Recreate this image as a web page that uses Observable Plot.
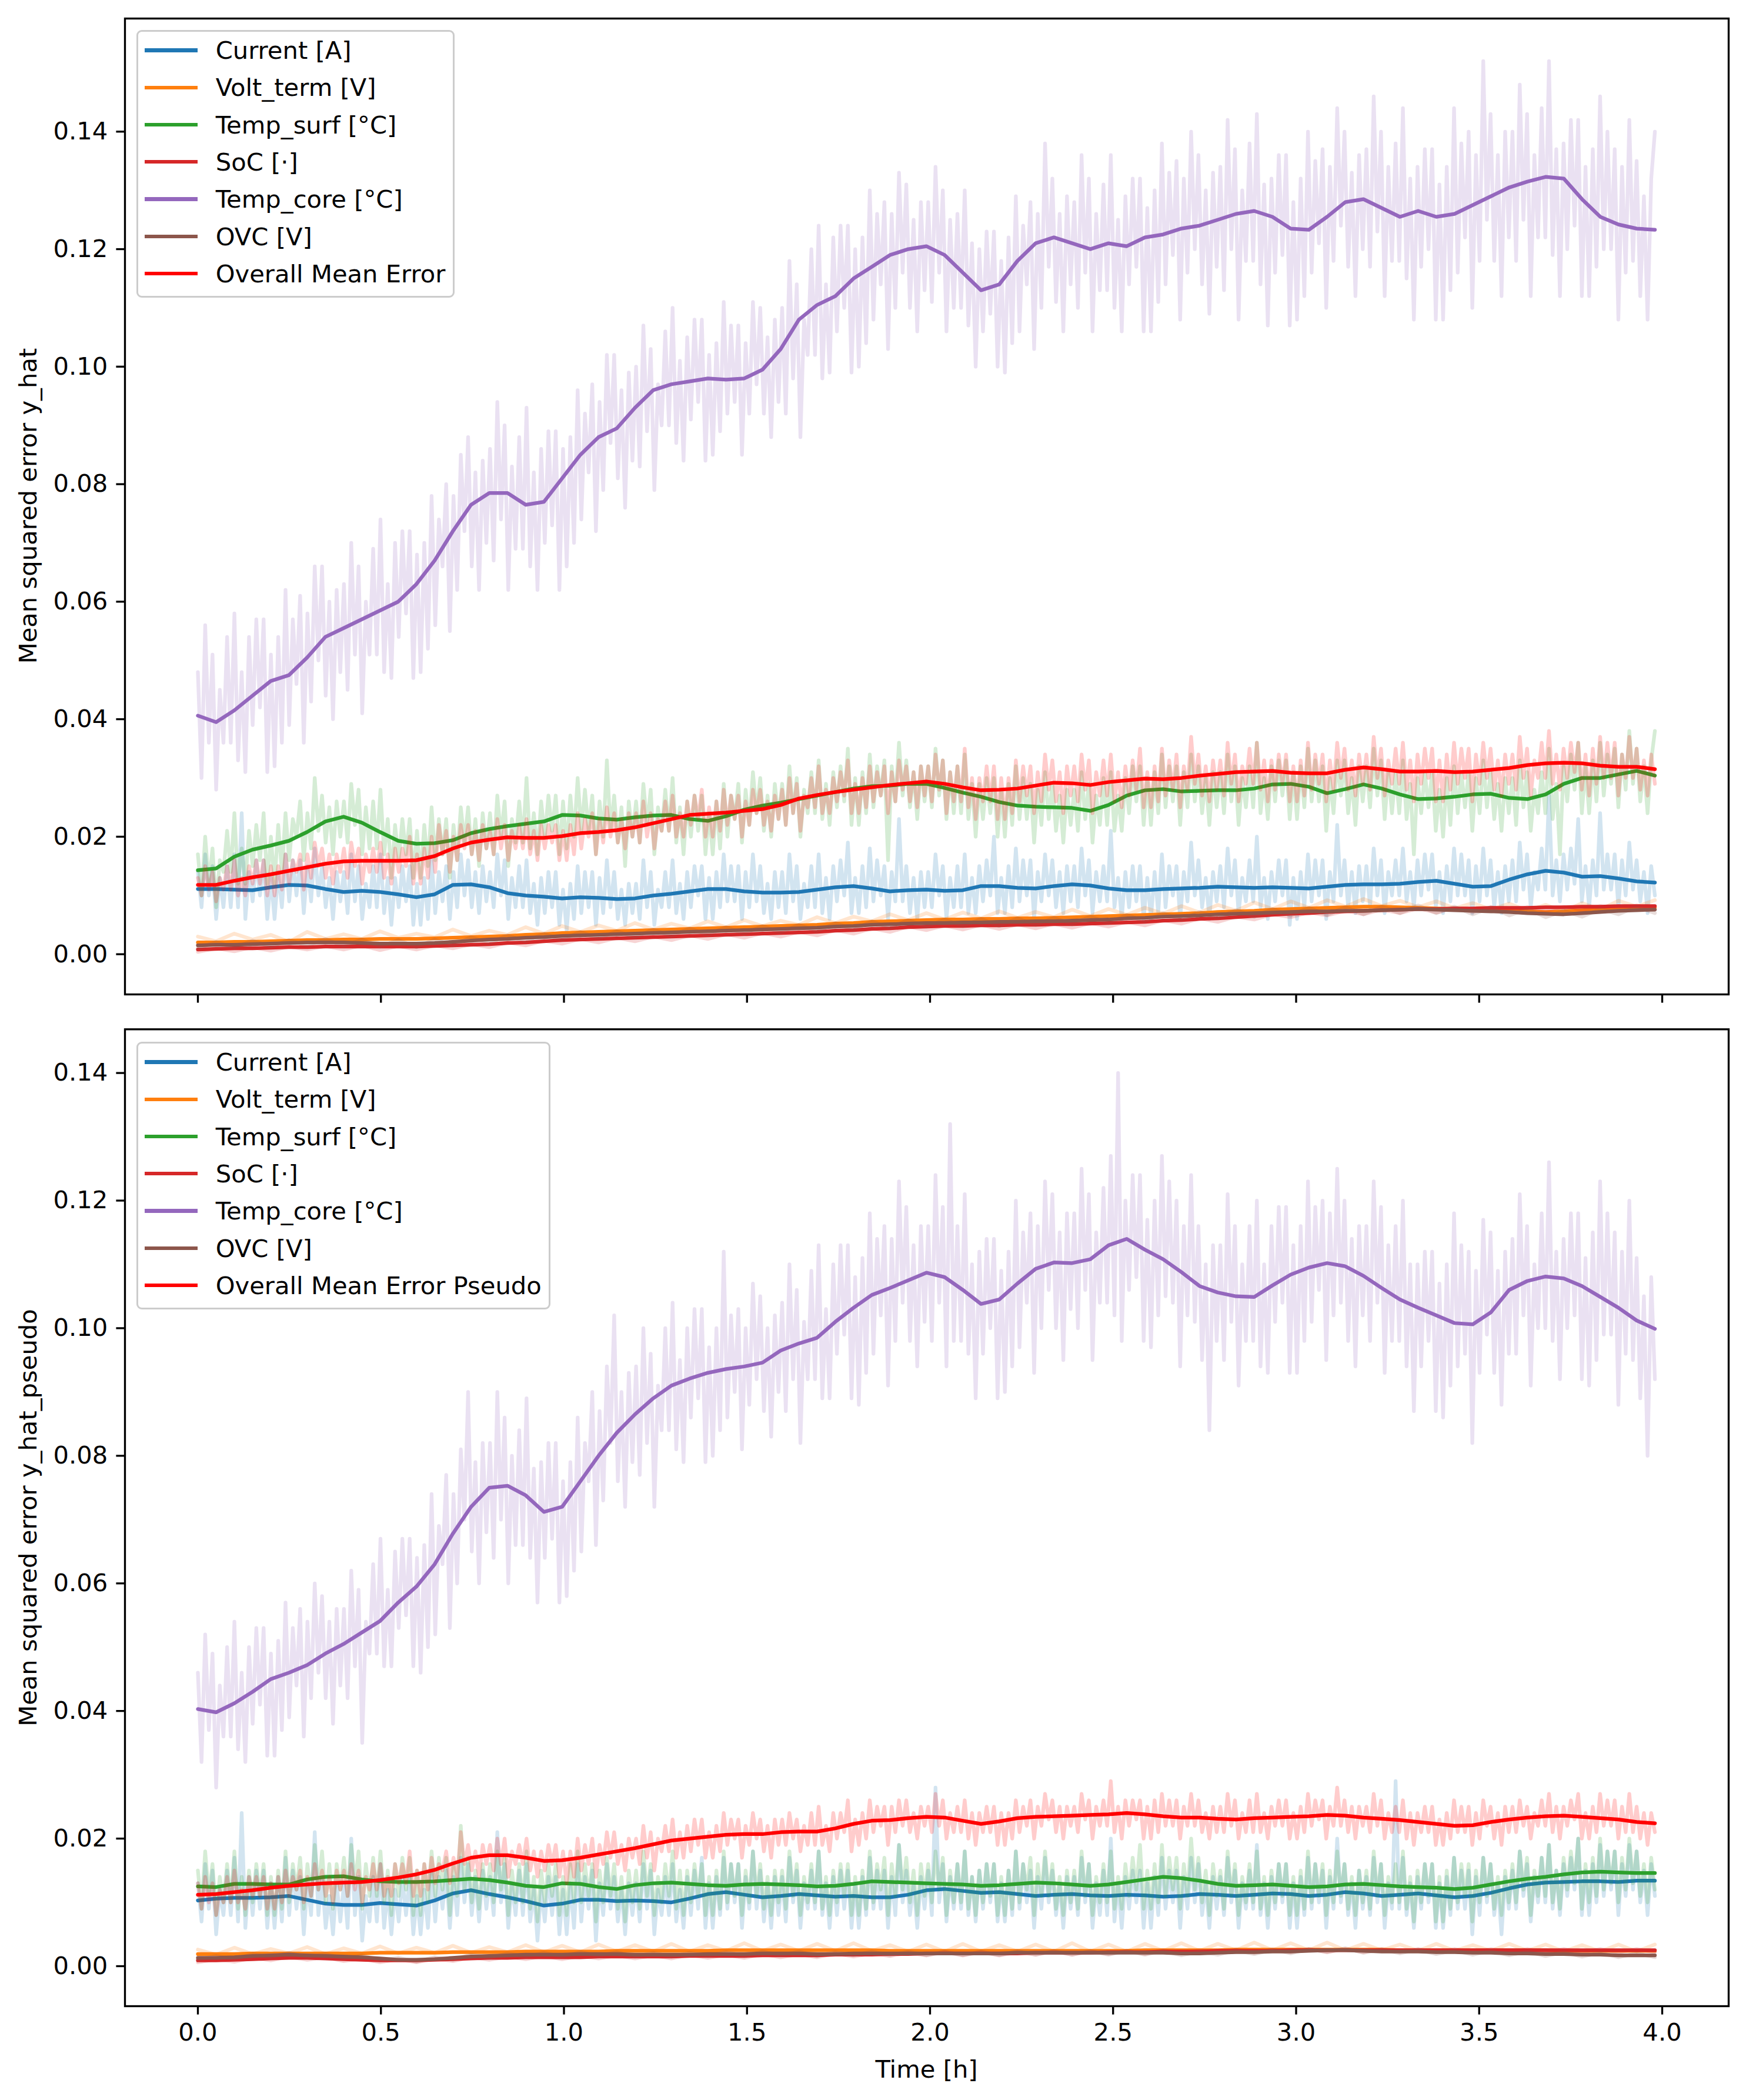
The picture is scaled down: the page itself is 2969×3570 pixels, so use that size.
<!DOCTYPE html>
<html>
<head>
<meta charset="utf-8">
<script src="https://cdn.jsdelivr.net/npm/d3@7"></script>
<script src="https://cdn.jsdelivr.net/npm/@observablehq/plot@0.6"></script>
<style>
  html, body { margin: 0; padding: 0; background: #ffffff; }
  #page { position: relative; width: 2969px; height: 3570px; background: #ffffff; font-family: "DejaVu Sans", sans-serif; color: #000; }
  .chart { position: absolute; left: 0; width: 2969px; }
  .chart svg { display: block; max-width: none !important; }
  .lbl { position: absolute; font-size: 41.7px; white-space: nowrap; line-height: 50px; }
</style>
</head>
<body>
<div id="page"></div>
<script>
// ---------------- DATA (values in units of 1e-3, i.e. MSE × 1000) ----------------
const T_END = 3.98;  // last time stamp [h]; samples are evenly spaced over [0, T_END]
const xTicks = [0, 0.5, 1, 1.5, 2, 2.5, 3, 3.5, 4];
const yTicks = [0, 0.02, 0.04, 0.06, 0.08, 0.10, 0.12, 0.14];
const SERIES = ["Current [A]", "Volt_term [V]", "Temp_surf [°C]", "SoC [·]", "Temp_core [°C]", "OVC [V]"];
const COLORS = ["#1f77b4", "#ff7f0e", "#2ca02c", "#d62728", "#9467bd", "#8c564b"];
const OVERALL_COLOR = "#ff0000";
const topOverallLabel = "Overall Mean Error";
const botOverallLabel = "Overall Mean Error Pseudo";
const topYLabel = "Mean squared error y_hat";
const botYLabel = "Mean squared error y_hat_pseudo";
const xLabel = "Time [h]";

// ===== TOP PANEL (y_hat) — smoothed (81 samples) =====
const topSmoothCurrent = [11.1,11.1,11.0,10.9,11.4,11.8,11.7,11.1,10.6,10.8,10.6,10.2,9.7,10.2,11.8,11.9,11.4,10.4,10.0,9.8,
 9.5,9.7,9.6,9.4,9.5,10.0,10.3,10.7,11.1,11.1,10.7,10.5,10.5,10.6,11.0,11.4,11.6,11.2,10.7,10.9,
 11.0,10.8,10.9,11.6,11.6,11.3,11.2,11.6,11.9,11.7,11.2,10.9,10.9,11.1,11.2,11.3,11.5,11.4,11.3,11.4,
 11.3,11.2,11.5,11.8,11.9,11.9,12.0,12.3,12.5,12.0,11.5,11.6,12.7,13.6,14.2,13.9,13.2,13.3,12.9,12.4,12.2];
const topSmoothVolt = [2.0,2.0,2.1,2.1,2.2,2.3,2.4,2.4,2.5,2.5,2.6,2.6,2.6,2.7,2.8,2.9,3.0,3.1,3.3,3.4,
 3.6,3.7,3.8,3.9,4.0,4.1,4.2,4.3,4.4,4.5,4.6,4.7,4.8,4.9,5.0,5.2,5.3,5.5,5.6,5.7,
 5.8,5.9,5.9,6.0,6.0,6.1,6.1,6.2,6.3,6.4,6.5,6.6,6.7,6.8,6.9,7.0,7.2,7.3,7.4,7.6,
 7.7,7.8,7.9,8.0,8.1,8.1,8.0,7.9,7.8,7.7,7.6,7.5,7.4,7.3,7.2,7.3,7.5,7.7,7.9,8.0,8.0];
const topSmoothSurf = [14.3,14.6,16.6,17.8,18.5,19.3,20.8,22.6,23.4,22.4,20.8,19.3,18.8,18.9,19.4,20.6,21.3,21.8,22.2,22.6,
 23.7,23.6,23.1,22.9,23.3,23.6,23.7,23.0,22.7,23.5,24.6,25.3,25.8,26.4,27.0,27.6,28.2,28.6,28.7,29.0,
 29.0,28.3,27.5,26.8,25.9,25.3,25.1,25.0,24.9,24.4,25.4,27.0,27.9,28.1,27.7,27.8,27.9,27.9,28.2,28.9,
 29.0,28.5,27.4,28.1,28.9,28.2,27.2,26.4,26.5,26.8,27.2,27.3,26.6,26.4,27.2,29.0,30.0,30.0,30.6,31.2,30.4];
const topSmoothSoC = [0.8,0.9,1.0,1.0,1.1,1.2,1.2,1.3,1.3,1.3,1.3,1.3,1.3,1.4,1.5,1.6,1.7,1.9,2.0,2.2,
 2.4,2.5,2.6,2.7,2.8,2.9,3.0,3.1,3.2,3.3,3.4,3.5,3.6,3.7,3.8,4.0,4.1,4.3,4.4,4.6,
 4.7,4.8,4.8,4.9,4.9,5.0,5.0,5.1,5.1,5.2,5.3,5.4,5.5,5.7,5.8,6.0,6.1,6.3,6.5,6.7,
 6.9,7.0,7.2,7.3,7.4,7.5,7.6,7.7,7.7,7.8,7.8,7.9,7.9,7.9,8.0,8.0,8.1,8.1,8.2,8.2,8.2];
const topSmoothCore = [40.6,39.5,41.5,44,46.5,47.5,50.5,54,55.5,57,58.5,60,63,67,72,76.5,78.5,78.5,76.5,77,
 81,85,88,89.5,93,96,97,97.5,98,97.8,98,99.5,103,108,110.5,112,115,117,119,120,
 120.5,119,116,113,114,118,121,122,121,120,121,120.5,122,122.5,123.5,124,125,126,126.5,125.5,
 123.5,123.3,125.5,128,128.5,127,125.5,126.5,125.5,126,127.5,129,130.5,131.5,132.3,132,128.5,125.5,124.2,123.5,123.3];
const topSmoothOVC = [1.5,1.6,1.6,1.7,1.8,1.9,2.0,2.0,2.0,1.9,1.8,1.8,1.8,1.9,2.1,2.3,2.5,2.6,2.8,2.9,
 3.1,3.2,3.3,3.4,3.5,3.6,3.7,3.8,3.9,4.0,4.1,4.2,4.3,4.4,4.5,4.7,4.8,5.0,5.1,5.2,
 5.3,5.3,5.4,5.4,5.5,5.5,5.6,5.6,5.7,5.8,5.9,6.1,6.2,6.4,6.5,6.6,6.8,6.9,7.0,7.1,
 7.2,7.3,7.3,7.4,7.4,7.5,7.6,7.7,7.6,7.5,7.4,7.3,7.2,7.0,6.9,6.8,7.0,7.2,7.4,7.5,7.6];
const topSmoothOverall = [11.8,11.8,12.5,13.1,13.6,14.2,14.8,15.4,15.8,15.9,15.9,15.9,16.0,16.7,18.0,19.0,19.5,19.9,19.8,19.8,
 20.1,20.6,20.8,21.1,21.6,22.3,23.0,23.7,23.9,24.1,24.4,24.7,25.4,26.5,27.1,27.6,28.0,28.4,28.8,29.1,
 29.4,29.0,28.4,27.9,28.0,28.2,28.7,29.2,29.1,28.8,29.3,29.6,29.9,29.8,30.0,30.4,30.7,31.0,31.1,31.2,
 30.9,30.8,30.8,31.4,31.8,31.5,31.1,31.1,31.2,31.0,31.1,31.4,31.7,32.2,32.5,32.6,32.5,32.1,31.9,31.9,31.5];

// ===== TOP PANEL — raw (400 samples for large series, 81 for small) =====
const topRawCurrent = [
 14,8,17,10,15,6,13,8,15,8,17,8,24,6,14,9,16,10,16,6,
 13,6,14,8,17,9,16,10,16,7,15,9,18,10,15,8,13,6,14,9,
 14,7,17,9,15,6,12,8,15,8,17,7,13,5,13,8,15,9,15,5,
 12,5,13,6,16,7,14,9,15,6,14,8,17,10,16,8,14,7,15,9,
 14,8,17,10,16,6,13,8,15,8,16,7,12,5,13,7,14,8,14,5,
 11,4,12,6,15,7,14,8,14,5,13,7,16,8,14,6,11,5,12,7,
 12,6,16,8,14,5,11,8,14,8,16,7,12,6,14,8,15,10,15,6,
 13,6,14,8,17,9,15,9,15,6,14,8,17,9,15,7,12,6,14,8,
 14,7,17,9,15,6,12,8,15,8,17,7,13,6,15,9,16,10,19,7,
 13,7,15,8,18,9,16,10,15,6,14,9,23,9,15,7,13,6,14,8,
 14,8,17,10,15,6,13,8,15,8,17,7,13,7,15,9,16,10,20,7,
 13,7,15,8,18,9,16,10,16,6,14,9,17,10,16,8,14,7,15,9,
 15,8,18,10,16,7,14,9,15,9,21,8,13,6,14,8,15,9,15,6,
 13,6,14,7,17,8,15,10,15,6,14,9,19,10,16,8,13,6,14,9,
 15,8,18,10,16,7,13,9,16,9,20,8,13,6,14,9,16,10,16,5,
 13,6,14,8,17,9,16,10,16,6,14,9,22,10,16,8,14,7,15,9,
 15,8,18,10,16,7,14,10,16,10,18,9,14,8,16,10,17,11,17,8,
 14,7,15,9,18,10,17,10,16,7,15,9,18,10,16,8,14,7,15,9,
 16,9,19,11,17,8,14,11,18,11,27,10,16,9,17,11,18,12,23,9,
 15,8,16,10,24,11,17,11,17,8,16,10,19,11,16,9,14,7,15,10];
const topRawVolt = [3.0,2.2,3.5,2.5,3.3,2.1,3.8,2.6,3.4,2.6,3.9,2.8,3.5,2.9,4.2,3.1,4.0,3.3,4.6,3.5,
 4.8,3.8,4.9,4.0,5.3,4.2,5.2,4.4,5.6,4.6,5.8,4.8,5.7,5.0,6.3,5.3,6.4,5.6,6.8,5.8,
 7.0,5.9,7.1,6.1,7.3,6.2,7.2,6.3,7.6,6.5,7.7,6.7,7.9,6.9,8.2,7.1,8.4,7.4,8.8,7.7,
 9.0,7.9,9.2,8.1,9.4,8.2,9.1,8.0,9.0,7.8,8.7,7.6,8.6,7.4,8.4,7.3,8.7,7.6,9.1,8.1,9.2];
const topRawSurf = [
 17,10,20,12,18,8,16,14,21,14,24,12,18,12,21,15,22,16,24,12,
 20,12,22,14,24,16,23,20,26,16,24,18,30,21,27,19,25,17,26,20,
 26,19,29,22,28,17,25,18,26,18,28,17,23,13,22,16,23,17,23,13,
 21,13,22,15,25,16,23,17,23,13,22,16,25,19,25,17,23,15,24,18,
 24,17,27,20,26,15,23,19,26,19,30,18,24,17,26,20,27,21,27,17,
 26,18,27,20,30,21,28,21,27,17,26,20,33,21,27,19,25,15,26,20,
 26,19,29,22,28,17,25,21,28,21,30,19,25,17,26,20,27,21,27,17,
 24,17,26,18,29,20,27,23,29,19,28,22,31,24,30,21,27,20,29,23,
 29,22,32,24,30,20,28,24,31,24,33,23,29,22,31,25,32,26,35,22,
 30,22,31,24,34,25,32,27,33,16,32,26,36,27,33,25,31,23,32,26,
 32,25,35,27,33,23,31,24,32,24,34,23,29,20,29,23,30,24,30,20,
 28,20,29,22,32,23,30,23,29,19,28,22,31,23,29,21,27,19,28,22,
 28,21,31,23,29,19,27,22,30,22,31,21,27,21,30,24,32,26,32,22,
 30,22,31,24,34,25,32,26,32,22,31,25,34,26,32,24,30,22,31,25,
 31,24,34,26,32,22,30,25,32,25,36,24,30,23,32,26,33,27,33,23,
 31,23,32,25,35,26,33,26,32,21,30,24,33,27,33,24,30,22,32,26,
 32,25,35,27,33,23,31,24,31,24,33,23,29,17,30,24,31,25,31,21,
 28,20,30,22,32,24,31,25,31,21,30,24,33,25,31,23,29,21,30,24,
 30,22,33,25,31,21,28,24,31,24,35,23,29,17,32,26,34,28,36,24,
 32,24,33,26,36,27,34,29,35,25,34,28,38,29,35,26,32,24,33,38];
const topRawSoC = [0.4,1.0,0.5,1.2,0.6,1.3,0.8,1.4,0.8,1.5,0.7,1.4,0.8,1.5,1.0,1.7,1.2,2.0,1.5,2.3,
 1.8,2.6,2.0,2.8,2.2,3.0,2.4,3.2,2.6,3.4,2.8,3.6,3.0,3.8,3.2,4.1,3.5,4.4,3.8,4.7,
 4.1,4.9,4.2,5.0,4.3,5.1,4.4,5.2,4.5,5.3,4.7,5.5,4.9,5.8,5.2,6.1,5.5,6.4,5.9,6.8,
 6.3,7.1,6.6,7.4,6.8,7.6,7.0,7.8,7.1,7.9,7.2,8.0,7.3,8.0,7.4,8.1,7.5,8.2,7.6,8.3,7.6];
const topRawCore = [
 48,30,56,36,51,28,45,36,54,36,58,33,48,31,54,39,57,42,57,31,
 51,32,54,36,62,39,57,46,61,36,58,43,66,50,66,44,60,40,62,48,
 63,45,70,51,66,41,60,51,69,51,74,48,63,47,70,54,72,58,72,47,
 68,48,70,52,78,56,74,66,80,55,78,62,85,72,88,66,82,62,84,70,
 86,67,94,74,90,62,83,69,88,69,93,66,82,62,86,70,89,73,89,62,
 86,66,88,70,96,74,92,82,97,72,94,79,102,87,102,81,96,76,99,84,
 100,83,107,89,103,79,97,90,106,90,110,87,101,84,105,91,108,94,108,84,
 102,85,104,89,111,92,107,94,107,85,104,92,111,97,110,92,105,88,108,94,
 110,92,118,98,114,88,108,102,120,102,124,98,114,99,122,106,124,110,124,99,
 120,100,122,104,130,108,126,114,128,103,126,110,133,116,131,110,125,106,128,113,
 128,111,134,116,130,106,125,110,126,110,130,107,121,100,120,106,123,109,123,100,
 118,99,122,104,129,106,124,114,128,103,126,110,138,117,132,111,126,106,129,114,
 128,110,136,116,132,106,126,113,131,113,136,110,125,106,129,114,132,117,132,106,
 127,106,130,111,138,114,133,119,135,108,132,116,140,120,136,114,130,109,133,117,
 134,113,142,120,137,108,130,118,138,118,143,114,131,107,132,116,136,119,136,107,
 128,108,132,112,140,116,135,121,137,110,134,118,144,124,140,117,133,112,136,120,
 137,117,146,123,140,112,134,118,138,118,144,115,132,108,134,117,137,120,137,108,
 131,108,134,113,144,116,138,122,140,110,136,118,152,125,143,118,136,112,140,122,
 140,118,148,125,143,112,136,122,144,122,152,119,137,112,138,120,142,124,142,112,
 134,112,137,117,146,120,140,120,137,108,134,116,142,118,135,112,129,108,132,140];
const topRawOVC = [1.0,2.1,1.1,2.3,1.3,2.4,1.5,2.6,1.4,2.5,1.3,2.4,1.2,2.5,1.5,2.9,1.9,3.2,2.2,3.5,
 2.5,3.8,2.7,3.9,2.9,4.2,3.1,4.4,3.3,4.6,3.5,4.8,3.7,5.0,3.9,5.3,4.2,5.6,4.5,5.8,
 4.7,5.9,4.8,6.0,4.8,6.1,5.0,6.2,5.1,6.4,5.3,6.7,5.6,7.0,5.9,7.2,6.2,7.5,6.4,7.7,
 6.6,7.9,6.7,8.0,6.8,8.1,7.0,8.3,7.0,8.1,6.8,8.0,6.6,7.7,6.3,7.4,6.4,7.7,6.8,8.1,7.0];
const topRawOverall = [
 13,10,15,11,14,9,13,11,15,11,16,10,13,10,15,12,16,12,16,10,
 15,10,15,11,17,12,16,14,17,11,17,13,19,15,18,13,17,12,17,14,
 18,13,19,15,18,12,17,14,18,14,19,13,17,12,18,14,18,15,20,12,
 17,12,18,13,20,14,22,17,21,14,20,16,22,18,22,17,21,16,22,18,
 21,17,23,18,22,16,21,18,22,18,23,17,21,16,22,18,22,19,22,16,
 21,16,22,17,24,18,23,20,24,17,23,19,25,20,24,19,23,18,24,20,
 24,19,26,20,24,18,23,21,26,21,27,20,24,20,26,22,27,23,28,20,
 25,20,26,21,28,22,27,23,27,20,26,22,28,24,28,22,26,21,27,23,
 28,22,30,24,29,21,27,25,30,25,32,24,28,24,30,26,31,27,33,24,
 29,24,30,25,32,26,31,27,32,24,31,26,33,28,32,26,31,25,32,27,
 32,26,34,28,33,24,31,26,32,26,35,25,30,23,30,26,32,26,32,23,
 30,23,30,24,33,26,32,27,32,24,31,26,34,28,33,26,31,24,32,27,
 32,26,34,28,33,24,31,27,33,27,34,26,31,25,32,27,33,28,35,25,
 31,25,32,26,35,27,33,28,34,25,32,28,37,29,34,27,32,26,33,28,
 33,27,36,29,34,26,32,29,35,29,36,28,33,26,33,28,34,29,34,26,
 32,26,33,27,36,28,34,29,34,26,33,28,36,30,35,28,33,27,34,29,
 34,28,37,30,35,27,33,29,35,29,36,28,33,26,34,29,35,30,35,26,
 33,26,34,28,36,29,35,30,35,26,34,29,36,30,35,28,33,27,34,29,
 34,28,37,30,35,27,33,30,36,30,38,29,34,28,35,30,36,31,36,28,
 34,27,35,29,37,30,36,30,36,27,34,30,37,30,35,28,33,27,34,29];

// ===== BOTTOM PANEL (y_hat_pseudo) — smoothed (81 samples) =====
const botSmoothCurrent = [10.3,10.6,10.7,10.7,10.8,11.0,10.4,9.8,9.6,9.6,9.9,9.7,9.5,10.3,11.4,11.9,11.3,10.8,10.2,9.5,
 9.8,10.4,10.4,10.2,10.3,10.2,10.0,10.6,11.3,11.6,11.2,10.8,11.0,11.3,11.1,10.9,11.0,10.8,10.8,11.2,
 11.9,12.1,11.8,11.5,11.6,11.3,11.0,11.2,11.3,11.1,11.0,11.2,11.1,10.9,11.0,11.3,11.2,11.0,11.2,11.4,
 11.3,11.0,11.2,11.6,11.4,11.0,11.2,11.4,11.1,10.8,11.0,11.5,12.2,12.8,13.1,13.2,13.3,13.3,13.2,13.4,13.4];
const botSmoothVolt = [1.9,1.9,1.9,2.0,2.0,2.0,2.0,2.0,2.0,2.0,2.1,2.1,2.1,2.1,2.2,2.2,2.2,2.2,2.3,2.3,
 2.3,2.3,2.3,2.4,2.4,2.4,2.4,2.4,2.4,2.5,2.5,2.5,2.5,2.5,2.5,2.5,2.5,2.5,2.4,2.4,
 2.4,2.4,2.4,2.4,2.4,2.4,2.4,2.4,2.4,2.4,2.4,2.4,2.5,2.5,2.5,2.5,2.5,2.6,2.6,2.6,
 2.6,2.6,2.6,2.6,2.6,2.6,2.5,2.5,2.5,2.5,2.5,2.5,2.5,2.5,2.5,2.4,2.4,2.4,2.4,2.4,2.4];
const botSmoothSurf = [12.5,12.4,12.9,12.9,12.8,12.8,13.6,14.0,14.1,13.6,13.3,13.2,13.2,13.3,13.5,13.7,13.5,13.1,12.6,12.4,
 13.0,12.9,12.4,12.1,12.7,13.0,13.1,12.9,12.7,12.6,12.8,12.9,12.8,12.7,12.5,12.6,12.9,13.3,13.2,13.1,
 13.0,12.9,12.8,12.6,12.7,12.9,13.1,13.0,12.8,12.6,12.8,13.2,13.6,14.0,13.8,13.4,12.9,12.6,12.7,12.8,
 12.6,12.4,12.5,12.8,12.9,12.7,12.5,12.4,12.3,12.1,12.3,12.8,13.3,13.7,14.0,14.4,14.7,14.8,14.7,14.6,14.6];
const botSmoothSoC = [0.9,0.9,1.0,1.1,1.2,1.3,1.3,1.2,1.1,1.0,0.9,0.9,0.9,1.0,1.1,1.2,1.3,1.3,1.4,1.4,
 1.4,1.4,1.5,1.5,1.5,1.5,1.5,1.6,1.6,1.6,1.6,1.7,1.7,1.7,1.7,1.8,1.8,1.8,1.9,1.9,
 2.0,2.0,2.0,2.0,2.0,2.0,2.1,2.1,2.1,2.1,2.2,2.2,2.2,2.3,2.3,2.3,2.4,2.4,2.4,2.4,
 2.5,2.5,2.5,2.5,2.5,2.5,2.5,2.5,2.5,2.5,2.5,2.5,2.5,2.5,2.5,2.5,2.5,2.5,2.5,2.5,2.5];
const botSmoothCore = [40.3,39.8,41.2,43.0,45.0,46.0,47.2,49.0,50.5,52.3,54.1,57.0,59.5,63.0,67.8,72.0,75.0,75.3,73.8,71.2,
 72.0,76.0,80.0,83.6,86.5,89.0,91.0,92.1,93.0,93.6,94.0,94.6,96.5,97.6,98.5,101.0,103.2,105.2,106.3,107.5,
 108.7,108.0,106.0,103.8,104.5,107.0,109.3,110.3,110.2,110.8,113.0,114.0,112.3,110.8,108.8,106.6,105.6,105.0,104.9,106.7,
 108.4,109.5,110.2,109.7,108.2,106.3,104.5,103.2,102.0,100.8,100.6,102.5,106.0,107.4,108.1,107.8,106.6,104.9,103.2,101.2,99.9];
const botSmoothOVC = [1.3,1.3,1.4,1.6,1.7,1.8,1.7,1.6,1.5,1.4,1.2,1.0,1.0,1.1,1.3,1.5,1.6,1.7,1.8,1.8,
 1.8,1.9,1.9,1.9,1.8,1.8,1.8,1.8,1.9,1.9,1.9,2.0,2.0,2.0,1.9,1.9,2.0,2.0,2.0,2.0,
 2.0,2.0,2.0,2.0,2.0,2.1,2.1,2.1,2.1,2.1,2.1,2.1,2.1,2.1,2.0,2.0,2.1,2.2,2.2,2.3,
 2.3,2.4,2.5,2.5,2.4,2.3,2.3,2.3,2.2,2.2,2.1,2.1,2.0,2.0,1.9,1.9,1.8,1.8,1.7,1.7,1.7];
const botSmoothOverall = [11.2,11.3,11.6,11.9,12.3,12.6,12.8,13.0,13.1,13.2,13.5,13.9,14.4,15.1,16.1,17.0,17.4,17.4,17.0,16.5,
 16.6,17.0,17.5,18.0,18.5,19.1,19.7,20.0,20.3,20.6,20.7,20.7,21.0,21.1,21.1,21.6,22.3,22.8,22.9,23.2,
 23.4,23.3,22.8,22.3,22.7,23.2,23.4,23.5,23.6,23.7,23.8,24.0,23.8,23.5,23.3,23.3,23.1,23.0,23.2,23.3,
 23.4,23.5,23.7,23.6,23.3,23.1,22.9,22.6,22.3,22.0,22.1,22.6,23.0,23.3,23.5,23.6,23.4,23.2,23.0,22.6,22.4];

// ===== BOTTOM PANEL — raw =====
const botRawCurrent = [
 13,7,16,9,15,5,12,8,15,8,17,7,24,6,14,8,15,9,15,6,
 13,6,14,7,17,8,15,9,14,5,13,8,21,8,14,6,11,5,13,7,
 13,6,20,8,14,4,11,7,14,7,16,6,12,5,12,7,14,8,14,5,
 11,5,12,6,15,7,14,9,15,6,14,8,17,10,16,8,14,7,15,9,
 14,8,21,10,16,6,13,8,15,8,16,7,12,4,12,7,14,8,14,5,
 12,5,13,6,16,7,14,9,15,4,13,8,16,9,14,7,12,5,13,8,
 13,7,16,9,15,5,12,8,14,8,16,7,12,6,14,8,15,9,17,6,
 13,6,14,8,17,9,16,10,16,6,14,9,18,9,15,7,13,6,14,8,
 14,7,17,10,15,6,13,9,15,9,18,8,13,6,14,8,15,9,15,6,
 13,6,14,8,17,9,15,9,15,6,14,8,19,10,15,8,13,6,14,9,
 15,8,28,10,16,7,14,9,16,9,18,8,14,7,15,9,16,10,16,7,
 13,7,15,8,18,9,16,10,15,6,14,9,17,10,15,8,13,6,14,9,
 14,8,17,10,16,6,13,8,15,8,20,7,13,6,14,9,15,10,15,6,
 13,6,14,8,17,9,15,10,15,6,14,9,17,10,16,8,13,6,14,9,
 14,8,17,10,15,6,13,9,15,9,19,8,13,6,14,9,16,10,16,6,
 13,6,14,8,17,9,16,10,15,6,14,9,20,10,16,8,13,6,15,9,
 14,8,17,10,16,6,13,9,29,9,17,8,13,6,14,9,16,10,16,6,
 13,6,14,8,17,9,15,9,15,5,14,8,17,10,16,8,13,5,14,9,
 15,9,18,11,16,7,14,10,17,10,19,9,15,8,16,11,17,12,20,8,
 15,8,16,10,19,11,18,12,18,8,16,11,19,12,18,10,15,8,16,11];
const botRawVolt = [2.6,1.8,2.9,1.9,2.7,2.0,3.0,1.9,2.8,2.0,3.1,2.0,2.9,2.1,3.2,2.1,3.0,2.2,3.3,2.2,
 3.2,2.2,3.4,2.3,3.3,2.3,3.5,2.3,3.3,2.4,3.6,2.4,3.4,2.4,3.5,2.4,3.6,2.4,3.3,2.3,
 3.4,2.3,3.5,2.3,3.3,2.3,3.4,2.3,3.6,2.3,3.4,2.3,3.5,2.4,3.6,2.4,3.5,2.5,3.7,2.5,
 3.6,2.5,3.7,2.5,3.5,2.5,3.4,2.4,3.5,2.4,3.3,2.4,3.5,2.4,3.4,2.3,3.3,2.3,3.4,2.3,3.4];
const botRawSurf = [
 15,9,18,11,16,8,14,10,16,10,18,9,14,8,15,10,16,11,16,8,
 14,8,15,9,18,10,16,12,17,9,16,11,19,12,18,10,16,9,16,12,
 17,11,19,13,18,9,16,11,17,11,18,10,15,8,16,11,17,12,17,8,
 15,8,16,10,18,11,17,12,17,8,16,11,22,12,17,10,15,9,16,11,
 16,10,18,12,17,8,15,10,16,10,18,9,14,7,15,10,16,11,16,8,
 14,8,16,10,18,10,16,11,16,7,15,10,17,11,16,9,14,7,15,10,
 15,9,18,11,16,8,14,10,16,11,18,9,15,8,15,10,16,11,16,8,
 14,8,15,9,18,10,16,11,16,8,15,10,18,11,16,9,14,8,15,10,
 15,9,18,11,16,8,14,10,16,10,18,9,14,8,15,10,16,11,16,8,
 14,8,15,9,18,10,16,12,17,8,16,11,19,12,17,10,15,8,16,11,
 16,10,18,12,17,8,15,10,16,10,18,9,14,8,15,10,16,11,16,8,
 14,8,15,9,18,10,16,12,17,8,16,11,18,11,16,9,14,8,15,10,
 15,9,18,11,16,8,14,10,16,10,18,9,14,9,16,11,17,12,19,9,
 15,9,16,10,19,11,17,12,17,9,16,11,20,12,17,10,15,8,16,11,
 15,9,18,11,16,8,14,10,16,10,18,9,14,8,15,10,16,11,16,8,
 14,8,15,9,18,10,16,11,16,8,15,10,18,11,16,9,14,8,15,10,
 15,9,18,11,16,8,14,10,16,10,18,9,14,7,15,10,16,11,16,7,
 14,7,15,9,17,10,16,11,16,7,15,10,17,11,16,9,14,8,15,10,
 16,10,18,12,17,8,15,11,17,11,19,10,15,9,17,12,18,13,20,9,
 16,10,17,11,20,12,18,13,18,10,17,12,20,13,18,11,16,10,17,12];
const botRawSoC = [0.6,1.1,0.7,1.3,0.9,1.5,1.0,1.4,0.8,1.2,0.6,1.1,0.6,1.2,0.8,1.4,1.0,1.5,1.1,1.6,
 1.1,1.6,1.2,1.7,1.2,1.7,1.2,1.8,1.3,1.8,1.3,1.9,1.4,1.9,1.4,2.0,1.5,2.0,1.6,2.1,
 1.7,2.2,1.7,2.2,1.7,2.2,1.8,2.3,1.8,2.3,1.9,2.4,1.9,2.5,2.0,2.5,2.1,2.6,2.1,2.6,
 2.2,2.7,2.2,2.7,2.2,2.7,2.2,2.7,2.2,2.7,2.2,2.7,2.2,2.7,2.2,2.7,2.2,2.7,2.2,2.7,2.2];
const botRawCore = [
 46,32,52,37,49,28,44,36,50,36,54,34,46,32,50,38,53,41,53,33,
 49,33,51,37,57,39,53,44,56,36,54,42,60,46,58,42,54,38,56,44,
 56,42,62,47,59,35,54,49,63,49,67,47,59,47,65,53,67,55,67,47,
 64,46,66,50,74,52,69,63,77,53,74,60,81,70,90,65,79,60,82,68,
 82,64,90,70,86,60,80,66,84,66,89,64,78,57,79,64,82,67,82,57,
 76,58,79,62,86,65,82,76,90,66,87,73,94,82,102,76,90,72,93,79,
 94,77,100,82,96,72,91,84,100,84,104,81,95,79,100,86,103,89,103,79,
 97,80,100,84,112,86,102,90,103,81,100,88,107,92,105,87,100,83,102,90,
 104,87,110,92,106,82,101,92,109,92,113,89,103,89,110,96,113,99,113,89,
 108,88,111,93,118,96,114,102,116,91,114,98,123,104,119,98,113,94,116,101,
 116,98,124,104,119,94,132,98,116,98,121,96,110,89,112,96,114,100,114,89,
 109,90,112,94,120,97,115,104,118,93,116,100,123,106,121,100,115,95,118,103,
 118,100,125,106,121,95,115,104,122,104,127,102,140,98,120,106,124,108,124,98,
 117,97,120,102,127,105,123,104,120,94,116,102,124,101,116,95,110,84,113,98,
 113,95,121,101,116,91,110,98,116,98,120,94,110,93,116,101,119,104,119,93,
 113,93,116,98,123,101,119,106,120,95,118,102,125,104,120,98,114,94,116,102,
 116,98,123,104,119,93,113,98,116,98,120,94,110,87,110,94,112,98,112,87,
 107,86,110,91,118,94,113,96,112,82,109,93,117,99,115,93,109,88,112,96,
 114,96,121,102,116,91,110,100,118,100,126,98,112,92,114,100,118,102,118,92,
 111,91,115,95,123,99,118,99,115,88,112,96,120,95,111,89,105,80,108,92];
const botRawOVC = [1.0,1.6,1.1,1.9,1.4,2.1,1.4,1.9,1.2,1.7,0.9,1.3,0.7,1.4,1.0,1.8,1.3,2.0,1.5,2.1,
 1.5,2.2,1.6,2.2,1.5,2.1,1.5,2.1,1.6,2.2,1.6,2.3,1.7,2.3,1.6,2.2,1.7,2.3,1.7,2.3,
 1.7,2.3,1.7,2.3,1.7,2.4,1.8,2.4,1.8,2.4,1.8,2.4,1.8,2.4,1.7,2.3,1.8,2.5,1.9,2.6,
 2.0,2.7,2.2,2.8,2.1,2.6,2.0,2.6,1.9,2.5,1.8,2.4,1.7,2.3,1.6,2.2,1.5,2.1,1.4,2.0,1.4];
const botRawOverall = [
 13,9,14,10,13,8,12,10,14,10,15,10,12,9,14,11,14,11,14,9,
 13,9,14,10,15,11,14,12,15,10,14,11,16,12,15,11,14,10,15,12,
 15,11,16,12,15,10,14,12,16,12,16,11,14,11,16,13,16,13,18,11,
 15,11,16,12,17,13,16,15,18,13,17,14,21,16,19,15,18,14,19,16,
 19,15,20,16,20,14,18,16,19,16,20,15,18,14,18,15,19,16,19,14,
 18,13,18,14,20,15,19,16,20,14,19,16,21,17,21,16,19,15,20,17,
 20,16,22,17,21,15,20,18,22,18,23,17,21,17,22,18,23,19,23,17,
 21,17,22,18,24,19,23,20,23,17,22,19,24,20,23,18,22,17,23,19,
 23,19,24,20,23,18,22,19,24,19,25,19,22,18,24,20,24,21,26,18,
 23,19,24,20,26,21,25,22,25,19,25,21,26,22,26,21,24,20,25,22,
 25,21,27,22,26,20,24,21,25,21,26,20,24,19,24,21,25,21,25,19,
 24,19,24,20,26,21,25,22,26,20,25,22,27,23,26,21,25,20,25,22,
 25,21,27,23,26,20,25,22,26,22,29,21,25,20,26,22,26,23,26,20,
 25,20,26,21,27,22,26,22,26,20,25,22,27,22,26,21,24,20,25,21,
 25,21,27,22,26,20,24,21,26,21,27,21,24,20,25,22,26,22,26,20,
 24,20,25,21,27,22,26,23,26,20,25,22,28,22,26,21,25,20,25,22,
 25,21,27,22,26,20,24,21,25,21,26,20,24,19,24,21,25,21,25,19,
 23,19,24,20,26,21,25,21,25,19,24,20,26,22,25,20,24,19,25,21,
 25,21,26,22,25,20,24,22,26,22,27,21,25,20,25,22,26,23,27,20,
 24,20,25,21,27,22,26,22,26,20,25,21,27,21,25,20,24,19,24,21];

// ---------------- BUILD ----------------
const toRows = vals => vals.map((v, i) => ({t: i * T_END / (vals.length - 1), v: v / 1000}));

const FS = 41.7;          // 10 pt at 300 dpi
const LW = 6.25;          // 1.5 pt
const AXW = 3.33;         // 0.8 pt
const TICK = 14.6;        // 3.5 pt

function panel({raw, smooth, overallRaw, overallSmooth, height, mt, mb, yDomain, xLabels}) {
  const marks = [];
  for (let k = 0; k < SERIES.length; k++) {
    marks.push(Plot.line(toRows(raw[k]), {x: "t", y: "v", stroke: COLORS[k], strokeOpacity: 0.2, strokeWidth: LW, strokeLinejoin: "round"}));
    marks.push(Plot.line(toRows(smooth[k]), {x: "t", y: "v", stroke: COLORS[k], strokeWidth: LW, strokeLinejoin: "round"}));
  }
  marks.push(Plot.line(toRows(overallRaw), {x: "t", y: "v", stroke: OVERALL_COLOR, strokeOpacity: 0.2, strokeWidth: LW, strokeLinejoin: "round"}));
  marks.push(Plot.line(toRows(overallSmooth), {x: "t", y: "v", stroke: OVERALL_COLOR, strokeWidth: LW, strokeLinejoin: "round"}));
  marks.push(Plot.axisY({ticks: yTicks, tickFormat: d3.format(".2f"), tickSize: TICK, tickPadding: TICK, strokeWidth: AXW, fontSize: FS, label: null, stroke: "black", fill: "black"}));
  marks.push(Plot.axisX({ticks: xTicks, tickFormat: xLabels ? d3.format(".1f") : () => "", tickSize: TICK, tickPadding: TICK, strokeWidth: AXW, fontSize: FS, label: null, stroke: "black", fill: "black"}));
  marks.push(Plot.frame({stroke: "black", strokeWidth: AXW}));
  return Plot.plot({
    width: 2969, height,
    marginLeft: 212, marginRight: 30, marginTop: mt, marginBottom: mb,
    x: {domain: [-0.1992, 4.1815]},
    y: {domain: yDomain},
    style: {fontFamily: "DejaVu Sans", fontSize: FS + "px", color: "black", background: "white", overflow: "visible"},
    marks
  });
}

const page = document.getElementById("page");

function place(node, top) {
  const wrap = document.createElement("div");
  wrap.className = "chart";
  wrap.style.top = top + "px";
  wrap.appendChild(node);
  page.appendChild(wrap);
}

place(panel({
  raw: [topRawCurrent, topRawVolt, topRawSurf, topRawSoC, topRawCore, topRawOVC],
  smooth: [topSmoothCurrent, topSmoothVolt, topSmoothSurf, topSmoothSoC, topSmoothCore, topSmoothOVC],
  overallRaw: topRawOverall, overallSmooth: topSmoothOverall,
  height: 1720, mt: 31, mb: 30, yDomain: [-0.00684, 0.15925], xLabels: false
}), 0);

place(panel({
  raw: [botRawCurrent, botRawVolt, botRawSurf, botRawSoC, botRawCore, botRawOVC],
  smooth: [botSmoothCurrent, botSmoothVolt, botSmoothSurf, botSmoothSoC, botSmoothCore, botSmoothOVC],
  overallRaw: botRawOverall, overallSmooth: botSmoothOverall,
  height: 1850, mt: 29.3, mb: 160, yDomain: [-0.00627, 0.14685], xLabels: true
}), 1720);

// legends (matplotlib-style boxes)
function legend(labels, colors, left, top, width, height, firstRow) {
  const B = 3.3;
  const box = document.createElement("div");
  box.style.cssText = `position:absolute;left:${left}px;top:${top}px;width:${width}px;height:${height}px;box-sizing:border-box;border:${B}px solid #cccccc;border-radius:9px;background:rgba(255,255,255,0.8);`;
  labels.forEach((lab, k) => {
    const cy = firstRow + k * 63.3 - top - B;
    const sw = document.createElement("div");
    sw.style.cssText = `position:absolute;left:${246 - left - B}px;top:${cy - LW / 2}px;width:90px;height:${LW}px;background:${colors[k]};`;
    const tx = document.createElement("div");
    tx.className = "lbl";
    tx.style.left = (367 - left - B) + "px";
    tx.style.top = (cy - 24.2) + "px";
    tx.textContent = lab;
    box.appendChild(sw);
    box.appendChild(tx);
  });
  page.appendChild(box);
}
legend([...SERIES, topOverallLabel], [...COLORS, OVERALL_COLOR], 232.3, 50.7, 540.7, 455.3, 85.7);
legend([...SERIES, botOverallLabel], [...COLORS, OVERALL_COLOR], 232.3, 1770.7, 703.7, 455.3, 1805.7);

// axis titles
function title(text, cx, cy, rotate) {
  const d = document.createElement("div");
  d.className = "lbl";
  d.style.left = cx + "px";
  d.style.top = cy + "px";
  d.style.transform = `translate(-50%,-50%)${rotate ? " rotate(-90deg)" : ""}`;
  d.textContent = text;
  page.appendChild(d);
}
title(topYLabel, 48, 860, true);
title(botYLabel, 48, 2580, true);
title(xLabel, 1575.5, 3518, false);
</script>
</body>
</html>
